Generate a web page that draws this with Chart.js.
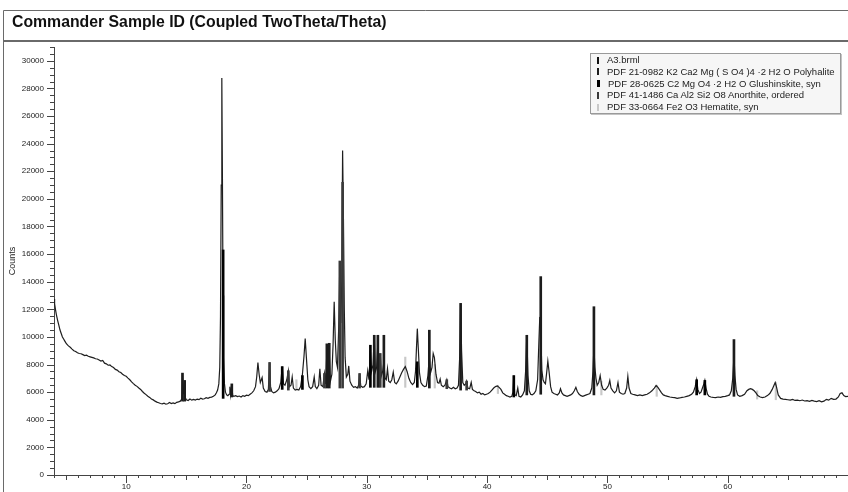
<!DOCTYPE html>
<html>
<head>
<meta charset="utf-8">
<script src="https://cdn.jsdelivr.net/npm/chart.js@4/dist/chart.umd.min.js"></script>
<style>
  html, body { margin: 0; padding: 0; background: #fff; }
  #wrap { position: relative; width: 848px; height: 492px; overflow: hidden; font-family: "Liberation Sans", Arial, sans-serif; }
  #c { position: absolute; left: 0; top: 0; }
  #title { position: absolute; left: 12px; top: 13px; font-size: 15.8px; font-weight: bold; color: #111; white-space: nowrap; letter-spacing: 0; }
  #legend { position: absolute; left: 590px; top: 53px; width: 249px; height: 59px; border: 1px solid #9a9a9a; background: #f6f6f6; box-shadow: 1px 1px 0 #c4c4c4; font-size: 9.5px; color: #222; }
  #legend .row { height: 11.8px; line-height: 11.8px; white-space: nowrap; padding-left: 6px; }
  #legend .mk { display: inline-block; width: 2px; height: 7px; margin-right: 8px; vertical-align: -0.5px; }
</style>
</head>
<body>
<div id="wrap">
  <canvas id="c" width="848" height="492"></canvas>
  <div id="title"></div>
  <div id="legend"></div>
</div>
<script>
// ---------- text ----------
const chartTitle = "Commander Sample ID (Coupled TwoTheta/Theta)";
const yAxisTitle = "Counts";
const seriesNames = [
  "A3.brml",
  "PDF 21-0982 K2 Ca2 Mg ( S O4 )4 \u00B72 H2 O Polyhalite",
  "PDF 28-0625 C2 Mg O4 \u00B72 H2 O Glushinskite, syn",
  "PDF 41-1486 Ca Al2 Si2 O8 Anorthite, ordered",
  "PDF 33-0664 Fe2 O3 Hematite, syn"
];
const xTickLabels = [10, 20, 30, 40, 50, 60];
const yTickLabels = [0, 2000, 4000, 6000, 8000, 10000, 12000, 14000, 16000, 18000, 20000, 22000, 24000, 26000, 28000, 30000];

// ---------- measured scan (2Theta, counts) ----------
const scanTheta = [
 4.00,4.05,4.12,4.2,4.3,4.4,4.5,4.6,4.7,4.8,4.9,5.0,5.1,5.2,5.35,5.5,5.65,5.8,5.95,6.1,6.25,6.4,6.55,6.7,6.85,7.0,7.15,7.3,7.45,7.6,7.75,7.9,8.05,8.2,8.35,8.5,8.65,8.8,8.95,9.1,9.25,9.4,9.55,9.7,9.85,
 10.0,10.15,10.3,10.45,10.6,10.75,10.9,11.05,11.2,11.35,11.5,11.65,11.8,11.95,12.1,12.25,12.4,12.55,12.7,12.85,13.0,13.15,13.3,13.45,13.6,13.75,13.9,14.05,14.2,14.35,14.5,14.62,14.68,14.74,14.8,14.86,14.92,
 15.0,15.15,15.3,15.45,15.6,15.75,15.9,16.05,16.2,16.35,16.5,16.65,16.8,16.95,17.1,17.25,17.4,17.5,17.6,17.7,17.78,17.84,17.9,17.95,18.0,18.05,18.1,18.17,18.25,18.35,18.45,18.55,18.62,18.68,18.78,18.85,18.95,
 19.1,19.25,19.4,19.55,19.7,19.85,20.0,20.15,20.3,20.45,20.6,20.75,20.85,20.95,21.05,21.15,21.3,21.4,21.55,21.7,21.82,21.92,22.0,22.1,22.25,22.4,22.55,22.7,22.85,22.97,23.08,23.2,23.35,23.48,23.58,23.7,23.8,23.9,
 24.05,24.2,24.35,24.5,24.65,24.78,24.88,24.98,25.1,25.2,25.35,25.5,25.63,25.72,25.85,26.0,26.1,26.2,26.35,26.48,26.58,26.68,26.78,26.88,26.98,27.1,27.2,27.29,27.38,27.47,27.56,27.66,27.76,27.84,27.92,27.99,
 28.06,28.13,28.2,28.3,28.42,28.5,28.6,28.75,28.9,29.05,29.2,29.32,29.4,29.5,29.65,29.8,29.95,30.08,30.18,30.3,30.4,30.52,30.62,30.72,30.82,30.92,31.02,31.12,31.22,31.32,31.42,31.52,31.62,31.72,31.82,31.95,
 32.08,32.2,32.32,32.45,32.6,32.75,32.9,33.05,33.2,33.35,33.5,33.65,33.8,33.95,34.05,34.12,34.2,34.28,34.38,34.5,34.65,34.8,34.95,35.08,35.2,35.3,35.42,35.52,35.62,35.75,35.88,36.0,36.1,36.2,36.35,36.5,36.65,36.75,36.9,
 37.05,37.2,37.35,37.5,37.62,37.72,37.8,37.88,37.98,38.1,38.22,38.3,38.4,38.55,38.68,38.78,38.92,39.05,39.2,39.35,39.5,39.65,39.8,39.95,40.1,40.25,40.4,40.55,40.7,40.85,41.0,41.15,41.3,41.45,41.6,41.75,41.9,
 42.05,42.15,42.22,42.3,42.42,42.55,42.65,42.8,42.95,43.1,43.2,43.3,43.4,43.5,43.62,43.75,43.9,44.05,44.2,44.3,44.38,44.46,44.55,44.65,44.75,44.85,44.95,45.05,45.15,45.28,45.4,45.55,45.7,45.85,46.0,46.1,46.22,46.35,46.5,46.65,46.8,46.95,
 47.1,47.25,47.38,47.5,47.65,47.8,47.95,48.1,48.25,48.4,48.55,48.7,48.8,48.88,48.96,49.05,49.15,49.28,49.4,49.52,49.65,49.8,49.95,50.1,50.2,50.3,50.45,50.6,50.75,50.88,51.0,51.15,51.3,51.45,51.6,51.7,51.8,51.95,
 52.1,52.3,52.5,52.7,52.9,53.1,53.3,53.5,53.7,53.9,54.05,54.2,54.35,54.5,54.65,54.8,55.0,55.2,55.4,55.6,55.8,56.0,56.2,56.4,56.6,56.8,57.0,57.15,57.3,57.42,57.52,57.65,57.78,57.9,58.02,58.1,58.2,58.32,58.45,58.6,58.8,
 59.0,59.2,59.4,59.6,59.8,60.0,60.15,60.3,60.42,60.52,60.6,60.7,60.82,61.0,61.2,61.4,61.6,61.75,61.9,62.05,62.2,62.35,62.5,62.7,62.9,63.1,63.3,63.5,63.7,63.85,63.95,64.05,64.2,64.4,64.6,64.8,
 65.0,65.2,65.4,65.6,65.8,66.0,66.2,66.4,66.6,66.8,67.0,67.2,67.4,67.6,67.8,68.0,68.2,68.4,68.6,68.8,69.0,69.2,69.35,69.5,69.65,69.8,70.0
];
const scanCounts = [
 12750,12400,12000,11600,11200,10850,10500,10250,10000,9850,9700,9550,9450,9350,9250,9120,9000,8950,8850,8800,8780,8720,8650,8680,8600,8560,8520,8480,8420,8400,8330,8250,8300,8100,8050,7950,7970,7850,7780,7650,7600,7480,7420,7300,7200,
 7150,7020,6900,6750,6620,6500,6420,6300,6200,6050,5920,5820,5700,5620,5500,5440,5350,5280,5230,5180,5150,5200,5130,5160,5250,5180,5220,5170,5260,5300,5350,5500,7350,5900,6100,6800,5600,
 5450,5400,5500,5420,5480,5430,5500,5460,5560,5500,5520,5600,5560,5620,5640,5700,5800,5950,6150,6600,7800,11500,21000,28750,21500,13000,8500,6600,6000,5800,5750,5850,6400,5800,6550,5750,5700,
 5750,5680,5720,5650,5750,5700,5780,5750,5850,5950,6100,6400,7100,8150,7300,6700,7050,6300,6050,6000,6200,8150,6400,6050,5950,6000,6100,6250,6700,7850,6600,6500,6900,7550,6400,6500,7100,6300,
 6150,6200,6150,6400,7300,8600,9880,8500,6900,6400,6250,6400,7100,6400,6250,6500,7700,6500,6400,7350,6600,8900,7200,8900,6800,7300,9500,12550,9800,8200,7800,10500,15500,11000,14000,23500,
 18500,12000,8500,7100,7300,7900,6800,6500,6350,6400,6300,6500,7350,6450,6350,6400,6600,7550,6900,9000,7500,8000,10100,7500,7800,9600,7300,8800,7200,7500,8200,7000,6900,7700,6800,6700,
 6900,7450,6700,6600,6800,7100,7400,7650,7850,7500,7000,6700,6550,6700,7500,9000,10600,9200,7400,6700,6500,6400,6450,7200,8600,7400,7800,8800,8500,7300,6700,6650,6950,6500,6400,6500,6900,6400,6300,
 6250,6350,6250,6300,6500,8500,12430,9000,6700,6500,6600,6800,6300,6250,6700,6200,6100,6050,5950,6000,5850,5900,5800,5850,5900,6000,6150,6300,6400,6450,6350,6200,5950,5850,5750,5700,5650,
 5700,6000,7200,5800,5750,6300,5700,5650,5800,6100,7500,10100,7200,6100,5850,5800,5900,6100,6900,9500,11450,10500,7600,6900,6700,6600,7400,8250,7500,6400,6000,5900,5850,5800,5950,6250,5950,5800,5750,5700,5750,5800,
 5900,6100,6350,6050,5850,5750,5700,5750,5800,5850,5900,6300,7500,9270,7800,7000,6500,6700,7200,6500,6200,6150,6300,6500,6850,6300,6100,5950,6100,6700,6000,5900,5850,5900,6300,7140,6300,5900,
 5850,5800,5750,5800,5750,5800,5850,5950,6100,6300,6480,6350,6150,5950,5800,5750,5700,5650,5620,5600,5550,5580,5620,5650,5700,5750,5850,6000,6400,6900,6200,5900,6000,6300,6600,6850,6300,5850,5700,5650,5620,
 5600,5650,5620,5680,5700,5750,5800,6100,7000,8600,7200,6200,5800,5700,5750,5850,6100,6200,6250,6200,6100,5950,5750,5650,5600,5650,5750,5900,6200,6500,6700,6400,5800,5550,5500,5480,
 5450,5420,5480,5400,5420,5380,5430,5360,5380,5340,5400,5350,5320,5380,5300,5350,5480,5420,5550,5480,5500,5650,5900,5950,5750,5680,5700
];

// ---------- reference patterns: stick position, stick base (background), stick top ----------
const polyTheta = [14.68, 14.86, 18.78, 26.68, 26.88, 30.62, 30.92, 31.42, 35.2, 37.8, 43.3, 44.46, 48.88, 60.52];
const polyBase  = [5350, 5350, 5650, 6300, 6300, 6350, 6350, 6350, 6300, 6150, 5800, 5850, 5800, 5700];
const polyTop   = [7380, 6850, 6600, 9500, 9540, 10120, 10120, 10120, 10490, 12430, 10120, 14370, 12190, 9810];

const glusTheta = [18.06, 22.97, 24.65, 30.3, 34.2, 42.22, 57.42, 58.1];
const glusBase  = [5550, 6200, 6200, 6350, 6350, 5650, 5800, 5800];
const glusTop   = [16300, 7850, 7200, 9400, 8200, 7200, 6900, 6850];

const anorTheta = [21.92, 23.48, 26.48, 27.76, 27.99, 29.4, 31.12, 36.65, 38.3];
const anorBase  = [6050, 6150, 6300, 6300, 6300, 6300, 6350, 6250, 6150];
const anorTop   = [8150, 7550, 7350, 15500, 21200, 7350, 8800, 6900, 6800];

const hemaTheta = [24.15, 33.2, 35.65, 40.9, 49.5, 54.1, 62.45, 64.0];
const hemaBase  = [6200, 6350, 6300, 5900, 5800, 5700, 5500, 5450];
const hemaTop   = [6900, 8540, 8000, 6500, 6800, 6500, 6100, 6700];

// ---------- build ----------
document.getElementById('title').textContent = chartTitle;

const seriesColors = ['#111111', '#1c1c1c', '#000000', '#3a3a3a', '#c8c8c8'];
const legendMarkerW = [2, 2, 3, 2, 2];
const lg = document.getElementById('legend');
seriesNames.forEach((n, i) => {
  const r = document.createElement('div'); r.className = 'row';
  const m = document.createElement('span'); m.className = 'mk';
  m.style.background = seriesColors[i]; m.style.width = legendMarkerW[i] + 'px';
  r.appendChild(m); r.appendChild(document.createTextNode(n)); lg.appendChild(r);
});

const scanData = scanTheta.map((t, i) => ({ x: t, y: scanCounts[i] }));
const sticks = (th, b, tp) => th.map((t, i) => ({ x: t, y: [b[i], tp[i]] }));

const ticksPlugin = {
  id: 'xrdTicks',
  afterDraw(chart) {
    const { ctx, scales: { x, y } } = chart;
    ctx.save();
    ctx.strokeStyle = '#444';
    ctx.lineWidth = 1;
    ctx.beginPath();
    for (let v = 0; v <= 31000; v += 500) {
      const py = Math.round(y.getPixelForValue(v)) + 0.5;
      const len = (v % 2000 === 0) ? 7 : 4;
      ctx.moveTo(x.left - len, py); ctx.lineTo(x.left, py);
    }
    for (let t = 4; t <= 70; t += 1) {
      const px = Math.round(x.getPixelForValue(t)) + 0.5;
      const len = (t % 10 === 0) ? 8 : ((t % 5 === 0) ? 5 : 3);
      ctx.moveTo(px, y.bottom); ctx.lineTo(px, y.bottom + len);
    }
    ctx.stroke();
    ctx.restore();
  },
  beforeDraw(chart) {
    const ctx = chart.ctx;
    ctx.save();
    ctx.fillStyle = '#fff';
    ctx.fillRect(0, 0, chart.width, chart.height);
    ctx.strokeStyle = '#6a6a6a';
    ctx.lineWidth = 1;
    ctx.beginPath();
    ctx.moveTo(3.5, chart.height); ctx.lineTo(3.5, 10.5); ctx.lineTo(chart.width, 10.5);
    ctx.stroke();
    ctx.strokeStyle = '#6a6a6a';
    ctx.lineWidth = 2;
    ctx.beginPath();
    ctx.moveTo(3, 41); ctx.lineTo(chart.width, 41);
    ctx.stroke();
    ctx.restore();
  }
};

const barDs = (label, data, color, order, w) => ({
  type: 'bar', label, data, backgroundColor: color, borderWidth: 0,
  barThickness: w, grouped: false, order
});

new Chart(document.getElementById('c'), {
  type: 'line',
  data: {
    datasets: [
      { type: 'line', label: seriesNames[0], data: scanData, borderColor: '#1e1e1e', borderWidth: 1.2,
        pointRadius: 0, tension: 0, fill: false, order: 2 },
      barDs(seriesNames[1], sticks(polyTheta, polyBase, polyTop), seriesColors[1], 1, 2),
      barDs(seriesNames[2], sticks(glusTheta, glusBase, glusTop), seriesColors[2], 1, 2),
      barDs(seriesNames[3], sticks(anorTheta, anorBase, anorTop), seriesColors[3], 1, 2),
      barDs(seriesNames[4], sticks(hemaTheta, hemaBase, hemaTop), seriesColors[4], 3, 1.5)
    ]
  },
  options: {
    responsive: false,
    animation: false,
    events: [],
    layout: { padding: { left: 4, top: 47, right: 0, bottom: 0 } },
    plugins: { legend: { display: false }, tooltip: { enabled: false }, title: { display: false } },
    scales: {
      x: {
        type: 'linear', min: 4, max: 70, offset: false,
        grid: { display: false, drawTicks: false },
        border: { display: true, color: '#444', width: 1 },
        afterFit(s) { s.height = 17; },
        afterBuildTicks(s) { s.ticks = xTickLabels.map(v => ({ value: v })); },
        ticks: { padding: 7, color: '#222', font: { family: 'Liberation Sans', size: 8 }, maxRotation: 0, autoSkip: false,
                 callback: v => String(v) }
      },
      y: {
        type: 'linear', min: 0, max: 31000,
        grid: { display: false, drawTicks: false },
        border: { display: true, color: '#444', width: 1 },
        afterFit(s) { s.width = 50; },
        afterBuildTicks(s) { s.ticks = yTickLabels.map(v => ({ value: v })); },
        ticks: { padding: 10, color: '#222', font: { family: 'Liberation Sans', size: 8 }, autoSkip: false,
                 callback: v => String(v) },
        title: { display: true, text: yAxisTitle, color: '#222', font: { family: 'Liberation Sans', size: 9 },
                 padding: { top: 3, bottom: 0 } }
      }
    }
  },
  plugins: [ticksPlugin]
});
</script>
</body>
</html>
